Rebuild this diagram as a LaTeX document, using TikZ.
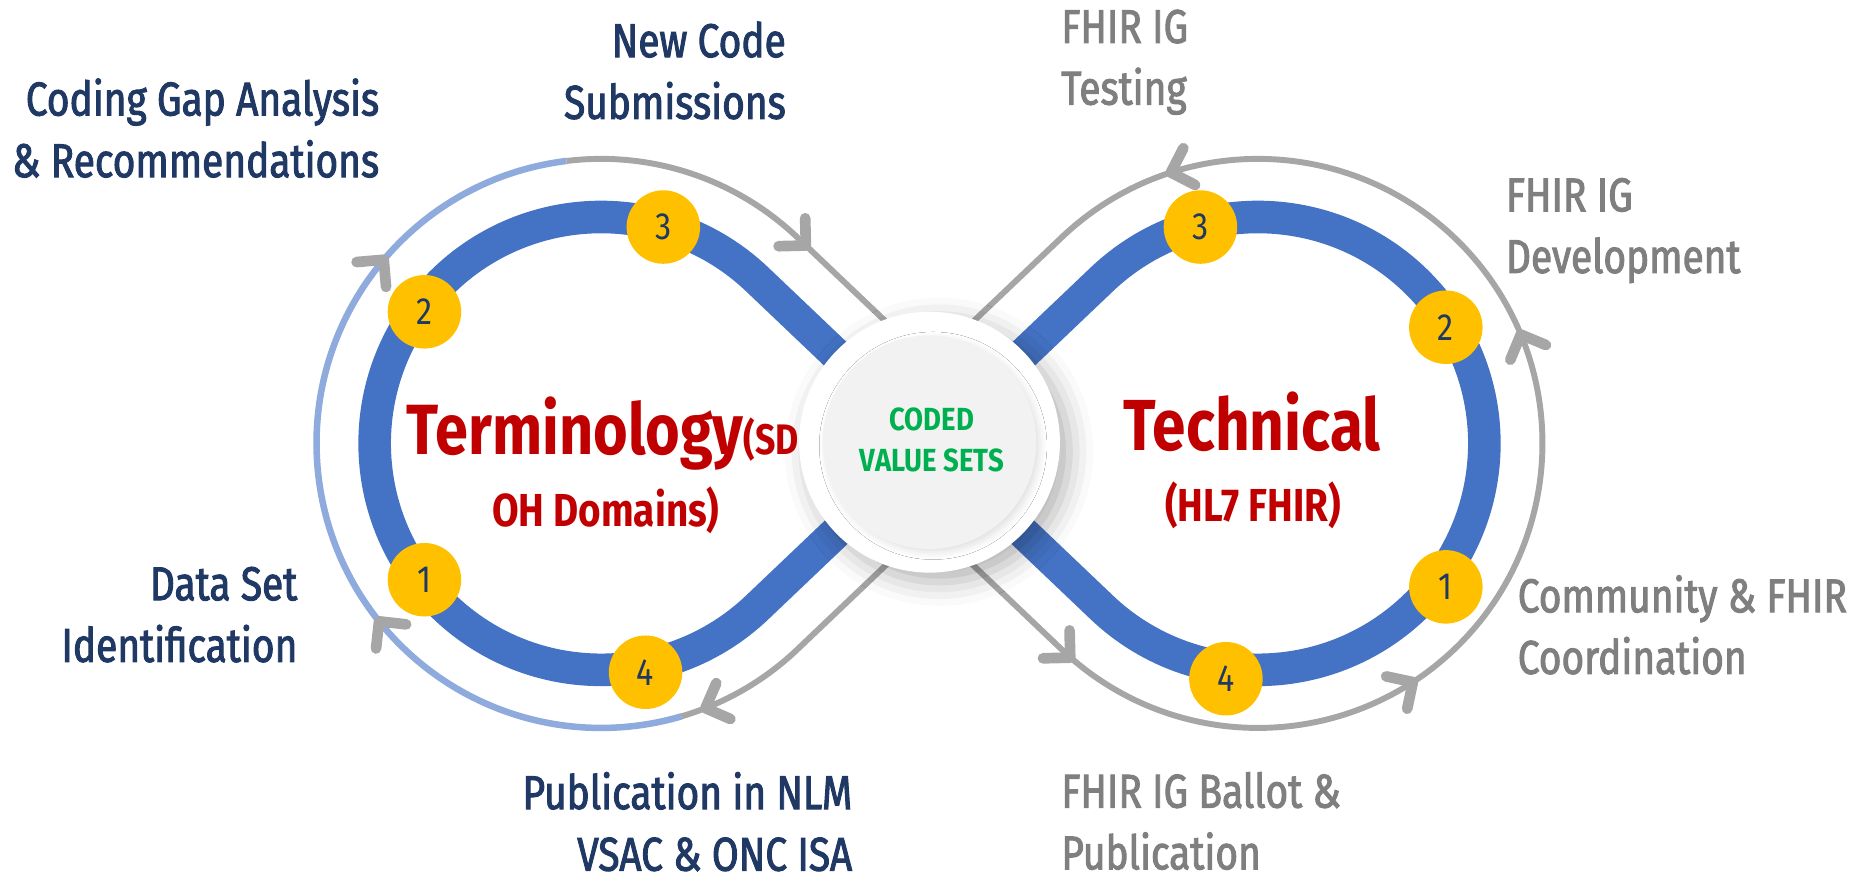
\documentclass[tikz,border=0pt]{standalone}
\usepackage{fontspec}
\setmainfont{Fira Sans}
\newfontfamily\lblfont{Fira Sans}[FakeStretch=0.82,FakeBold=2]
\newfontfamily\ttlfont{Fira Sans}[FakeStretch=0.835]
\newfontfamily\hubfont{Fira Sans}[FakeStretch=0.86]
\newfontfamily\numfont{Fira Sans}[FakeStretch=0.85]
\usetikzlibrary{shadows.blur,calc}

\definecolor{bandblue}{HTML}{4472C4}
\definecolor{loopblue}{HTML}{8FAADC}
\definecolor{loopgray}{HTML}{A6A6A6}
\definecolor{gold}{HTML}{FFC000}
\definecolor{navy}{HTML}{1F3864}
\definecolor{labelgray}{HTML}{7F7F7F}
\definecolor{titlered}{HTML}{C00000}
\definecolor{codegreen}{HTML}{00B050}
\definecolor{discgray}{HTML}{F2F2F2}

\tikzset{
  band/.style={draw=bandblue, line width=27.5pt},
  flowgray/.style={draw=loopgray, line width=5pt},
  flowblue/.style={draw=loopblue, line width=5.5pt},
  barb/.style={draw=loopgray, line width=9pt, line cap=round, line join=round},
  stepdot/.style={circle, fill=gold, minimum size=62pt, inner sep=0pt, text=navy,
    font=\numfont\fontsize{32}{32}\selectfont},
  navylabel/.style={inner sep=0pt, text=navy, align=right,
    font=\lblfont\fontsize{40}{52}\selectfont},
  graylabel/.style={inner sep=0pt, text=labelgray, align=left,
    font=\lblfont\fontsize{40}{52}\selectfont},
  titletext/.style={inner sep=0pt, text=titlered, font=\ttlfont\bfseries},
  hubtext/.style={inner sep=0pt, text=codegreen, font=\hubfont\bfseries\fontsize{27}{27}\selectfont},
}

% open arrowhead with its tip at #1, pointing along angle #2
\newcommand{\flowtip}[2]{%
  \draw[barb] (#1) ++(#2+135:23) -- (#1) -- ++(#2-135:23);}

\begin{document}
\begin{tikzpicture}[x=1pt,y=1pt]
\useasboundingbox (0,0) rectangle (1568,742);

\coordinate (L) at (507,368);
\coordinate (R) at (1061,368);
\coordinate (hubc) at (784,369);

% thick figure-eight band
\draw[band] (638.7,506.3) arc[start angle=46.4, end angle=313.6, radius=191]
  -- (929.3,506.3) arc[start angle=133.6, end angle=-133.6, radius=191] -- cycle;

% outer flow lines
\draw[flowblue] ($(L)+(97:240)$) arc[start angle=97, end angle=286.4, radius=240];
\draw[flowgray] ($(L)+(97:240)$) arc[start angle=97, end angle=46.4, radius=240] -- (802.9,417.7);
\draw[flowgray] ($(L)+(286.4:240)$) arc[start angle=286.4, end angle=313.6, radius=240] -- (802.9,318.3);
\draw[flowgray] (765.1,417.7) -- ($(R)+(133.6:240)$)
  arc[start angle=133.6, end angle=-133.6, radius=240] -- (765.1,318.3);

% arrowheads along the flow
\coordinate (t1) at (679.7,534.9);
\coordinate (t2) at (323.7,522.9);
\coordinate (t3) at (319.7,217.9);
\coordinate (t4) at (595,144.7);
\coordinate (t5) at (902.7,187.3);
\coordinate (t6) at (1191.7,166.7);
\coordinate (t7) at (1282.7,459.8);
\coordinate (t8) at (987.6,596.5);
\flowtip{t1}{-43.6}
\flowtip{t2}{49.8}
\flowtip{t3}{128.7}
\flowtip{t4}{-158.5}
\flowtip{t5}{-43.6}
\flowtip{t6}{33}
\flowtip{t7}{112.5}
\flowtip{t8}{197.8}

% numbered steps
\node[stepdot] (l1) at (358,253) {1};
\node[stepdot] (l2) at (358,479) {2};
\node[stepdot] (l3) at (559.5,550.5) {3};
\node[stepdot] (l4) at (544.5,175) {4};
\node[stepdot] (r1) at (1219.5,247) {1};
\node[stepdot] (r2) at (1219.5,466) {2};
\node[stepdot] (r3) at (1012.5,550.5) {3};
\node[stepdot] (r4) at (1034,169.5) {4};

% central hub
\node[circle, minimum size=220pt, inner sep=0pt, fill=white,
  blur shadow={shadow xshift=8pt, shadow yshift=-8pt, shadow blur radius=20pt, shadow opacity=30}]
  (hub) at (hubc) {};
\node[circle, minimum size=180pt, inner sep=0pt, fill=discgray,
  blur shadow={shadow xshift=3pt, shadow yshift=-3pt, shadow blur radius=6pt, shadow opacity=12}]
  (hubcore) at (hubc) {};
\node[hubtext, anchor=base] (coded) at (786,379) {CODED};
\node[hubtext, anchor=base] (vsets) at (786,344) {VALUE SETS};

% loop titles
\node[titletext, anchor=base west] (term) at (343,359)
  {\fontsize{60}{60}\selectfont Terminology\fontsize{36}{36}\selectfont(SD};
\node[titletext, anchor=base] (termsub) at (511,298) {\fontsize{39}{39}\selectfont OH Domains)};
\node[titletext, anchor=base] (tech) at (1056,362) {\fontsize{61}{61}\selectfont Technical};
\node[titletext, anchor=base] (techsub) at (1057,302) {\fontsize{39}{39}\selectfont(HL7 FHIR)};

% step labels
\node[navylabel, anchor=north east] (newcode) at (663,724) {New Code\\Submissions};
\node[navylabel, anchor=north east] (gap) at (320,676) {Coding Gap Analysis\\\& Recommendations};
\node[navylabel, anchor=north east] (dataset) at (251,264) {Data Set\\Identification};
\node[navylabel, anchor=north east] (publish) at (719,91) {Publication in NLM\\VSAC \& ONC ISA};
\node[graylabel, anchor=north west] (testing) at (895,734) {FHIR IG\\Testing};
\node[graylabel, anchor=north west] (develop) at (1270,592) {FHIR IG\\Development};
\node[graylabel, anchor=north west] (coord) at (1280,257) {Community \& FHIR\\Coordination};
\node[graylabel, anchor=north west] (ballot) at (895,91) {FHIR IG Ballot \&\\Publication};
\end{tikzpicture}
\end{document}
